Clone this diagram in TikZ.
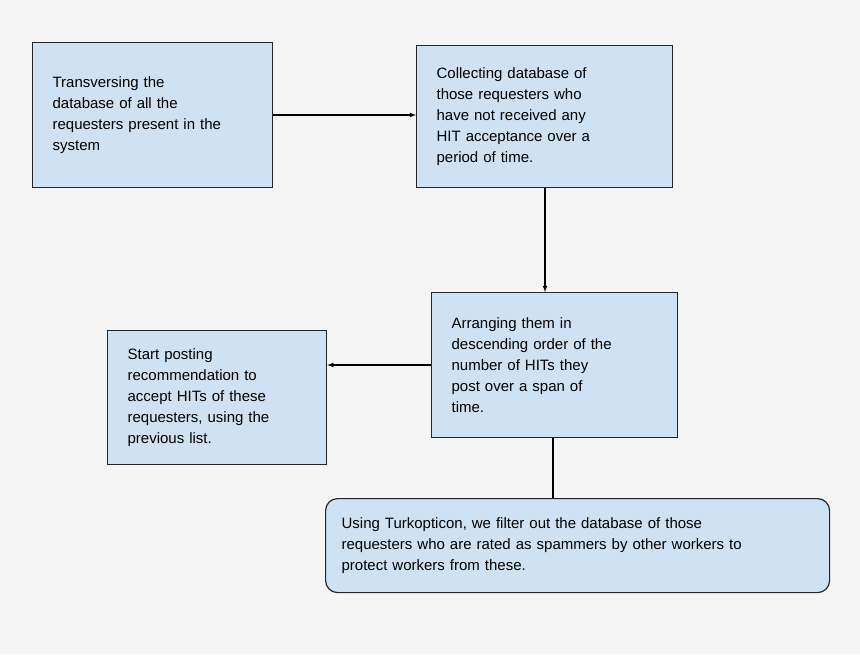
\documentclass[tikz,border=0pt]{standalone}
\usepackage{fontspec}
\setmainfont{Liberation Sans}
\usetikzlibrary{positioning}
\definecolor{boxfill}{HTML}{CFE2F3}
\definecolor{bgcol}{HTML}{F5F5F5}
\begin{document}
\begin{tikzpicture}[x=1pt,y=-1pt,
	procbox/.style={draw=black!85,fill=boxfill,line width=1.2pt,align=left,
		inner xsep=20pt,font=\fontsize{15}{21}\selectfont,anchor=north west},
	arrow/.style={-latex,line width=1.1pt}]
	\fill[bgcol] (0,0) rectangle (860,654);
	\node[procbox,minimum width=240pt,minimum height=145pt,text width=200pt] (trav) at (32,42)
		{Transversing the\\database of all the\\requesters present in the\\system\\[14pt]};
	\node[procbox,minimum width=256pt,minimum height=142pt,text width=216pt] (coll) at (416,45)
		{Collecting database of\\those requesters who\\have not received any\\HIT acceptance over a\\period of time.};
	\node[procbox,minimum width=246pt,minimum height=145pt,text width=206pt] (arr) at (431,292)
		{Arranging them in\\descending order of the\\number of HITs they\\post over a span of\\time.};
	\node[procbox,minimum width=219pt,minimum height=134pt,text width=179pt] (post) at (107,330)
		{Start posting\\recommendation to\\accept HITs of these\\requesters, using the\\previous list.};
	\node[procbox,rounded corners=12pt,minimum width=504pt,minimum height=94pt,text width=472pt,inner xsep=16pt] (filt) at (325,498)
		{Using Turkopticon, we filter out the database of those\\requesters who are rated as spammers by other workers to\\protect workers from these.};

	\draw[arrow] (trav.east |- 0,115) -- (coll.west |- 0,115);
	\draw[arrow] (coll.south -| 545,0) -- (arr.north -| 545,0);
	\draw[arrow] (arr.west |- 0,365) -- (post.east |- 0,365);
	\draw[line width=1.1pt] (arr.south -| 553,0) -- (filt.north -| 553,0);
\end{tikzpicture}
\end{document}
